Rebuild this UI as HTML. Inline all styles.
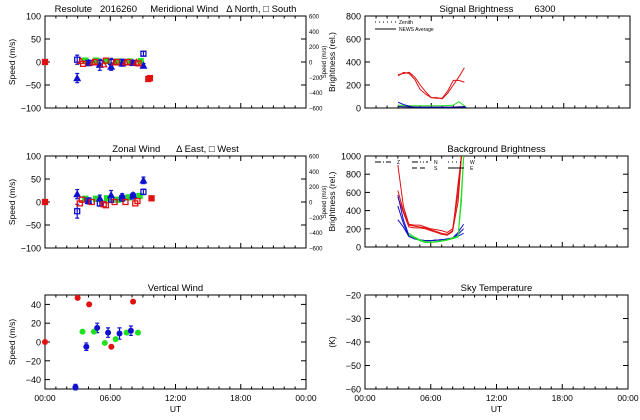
<!DOCTYPE html>
<html><head><meta charset="utf-8"><style>
html,body{margin:0;padding:0;background:#fff}
svg{display:block;font-family:"Liberation Sans",sans-serif}
svg text{white-space:pre}
</style></head><body>
<svg id="c" width="640" height="420" viewBox="0 0 640 420"></svg>
<script>
// ---- data ----
const merNorthH=[2.96,4.0,5.04,6.08,7.1,8.1,9.05];
const merNorthV=[-35,-2,-6,-10,-3,-2,-8];
const merNorthE=[10,6,12,8,6,5,5];
const merSouthH=[2.96,4.0,5.04,6.08,7.1,8.1,9.05];
const merSouthV=[5,-2,-2,0,0,-2,18];
const merSouthE=[10,5,6,8,6,4,5];
const merRedTriH=[3.3,4.4,5.4,6.4,7.4,8.4];
const merRedTriV=[2,-1,-5,-1,-1,-1];
const merRedSqH=[3.5,4.6,5.6,6.6,7.6,8.6];
const merRedSqV=[-4,0,3,0,0,-3];
const merRedDotH=[0,9.5,9.65];
const merRedDotV=[0,-37,-35];
const merGreenH=[3.7,4.7,5.7,6.7,7.8,8.8];
const merGreenV=[3,3,2,1,1,2];

const zonEastH=[2.96,4.0,5.04,6.08,7.1,8.1,9.05];
const zonEastV=[17,2,8,15,12,15,47];
const zonEastE=[10,6,7,10,6,5,7];
const zonWestH=[2.96,4.0,5.04,6.08,7.1,8.1,9.05];
const zonWestV=[-20,3,-3,5,8,12,22];
const zonWestE=[15,6,6,6,7,5,6];
const zonRedH=[3.2,3.4,4.3,5.4,5.6,6.4,7.4,8.3,8.5];
const zonRedV=[-3,5,0,-5,-7,0,0,-3,2];
const zonRedDotH=[0,9.8];
const zonRedDotV=[0,8];
const zonGreenH=[3.7,4.7,5.7,6.7,7.7,8.7];
const zonGreenV=[7,7,8,5,10,13];

const vertRedH=[0,3.0,4.06,6.1,8.1];
const vertRedV=[0,47,40,-5,43];
const vertBlueH=[2.8,3.8,4.8,5.8,6.85,7.9];
const vertBlueV=[-48,-5,15,10,9,12];
const vertBlueE=[3,4,5,5,6,5];
const vertGreenH=[3.45,4.5,5.5,6.5,7.5,8.55];
const vertGreenV=[11,11,-1,3,10,10];

const sigH=[3.0,3.5,4.0,4.5,5.0,5.5,6.0,6.5,7.0,7.5,8.0,8.5,9.0];
const sigRedA=[290,300,310,270,200,140,90,85,85,150,240,240,225];
const sigRedB=[280,310,300,250,160,120,90,90,80,130,200,270,350];
const sigGreenH=[3.0,4.0,5.0,6.0,7.0,8.0,8.5,9.0,9.2];
const sigGreen=[25,20,20,20,20,25,55,20,0];
const sigBlueH=[3.0,3.5,4.0,4.5,5.0,6.0,7.0,8.0,9.0,9.2];
const sigBlue=[50,30,15,5,5,5,5,5,10,0];
const sigBlue2H=[3.0,4.0,5.0,6.0,7.0,8.0,9.0,9.2];
const sigBlue2=[12,10,8,8,8,8,12,0];

const bgH=[3.0,3.5,4.0,4.5,5.0,5.5,6.0,6.5,7.0,7.5,8.0,8.5,8.8];
const bgRed1=[900,450,250,240,240,220,200,190,180,160,200,600,1000];
const bgRed2=[620,400,240,230,220,210,190,170,150,140,180,500,1000];
const bgRed3=[550,380,220,210,210,200,180,160,140,130,170,700,1000];
const bgBlueH=[3.0,3.5,4.0,4.5,5.0,5.5,6.0,6.5,7.0,7.5,8.0,8.5,9.0];
const bgBlue1=[570,300,130,100,80,70,70,75,80,90,100,160,250];
const bgBlue2=[450,260,120,90,75,70,70,75,80,85,95,140,200];
const bgBlue3=[300,220,115,90,75,70,70,75,80,85,95,120,150];
const bgGreenH=[4.0,4.5,5.0,5.5,6.0,6.5,7.0,7.5,8.0,8.5,8.8,9.0];
const bgGreen1=[150,110,80,60,55,60,70,80,100,120,500,1000];
const bgGreen2=[130,100,70,50,50,55,65,75,90,110,600,1000];

const xTickLabels=["00:00","06:00","12:00","18:00","00:00"];

// ---- helpers ----
const S=document.getElementById('c');
const NS='http://www.w3.org/2000/svg';
function el(tag,attrs,name,inter){
  const e=document.createElementNS(NS,tag);
  for(const k in attrs)e.setAttribute(k,attrs[k]);
  
  
  S.appendChild(e);return e;
}
function txt(x,y,s,size,anchor,name,rot){
  const a={x:x,y:y,'font-size':size,'text-anchor':anchor||'middle',fill:'#000'};
  if(rot)a.transform='rotate(-90 '+x+' '+y+')';
  const t=el('text',a,name);t.textContent=s;return t;
}
function panel(x0,x1,y0,y1,ymin,ymax,yticks,name,title,ylab,showX){
  const p={x:h=>x0+(x1-x0)*h/24,y:v=>y1-(y1-y0)*(v-ymin)/(ymax-ymin)};
  el('rect',{x:x0,y:y0,width:x1-x0,height:y1-y0,fill:'none',stroke:'#000','stroke-width':1},name+'-frame');
  for(let h=0;h<=24;h++){
    const L=h%6==0?5:2.5,X=p.x(h);
    el('line',{x1:X,x2:X,y1:y1,y2:y1-L,stroke:'#000'},name+'-xtick');
    el('line',{x1:X,x2:X,y1:y0,y2:y0+L,stroke:'#000'},name+'-xtick-top');
  }
  yticks.forEach(v=>{const Y=p.y(v);
    el('line',{x1:x0,x2:x0+5,y1:Y,y2:Y,stroke:'#000'},name+'-ytick');
    el('line',{x1:x1,x2:x1-5,y1:Y,y2:Y,stroke:'#000'},name+'-ytick-right');
    txt(x0-4,Y+3.5,String(v).replace('-','\u2212'),9,'end',name+'-ytick-label');});
  txt((x0+x1)/2,y0-4,title,9.5,'middle',name+'-title');
  txt(x0-30,(y0+y1)/2,ylab,8.5,'middle',name+'-y-axis-title',true);
  if(showX){
    xTickLabels.forEach((s,i)=>txt(p.x(i*6),y1+12,s,8.5,'middle',name+'-xtick-label'));
    txt((x0+x1)/2,y1+23,'UT',8.5,'middle',name+'-x-axis-title');
  }
  return p;
}
function rightAxis(p,x1,name){
  [600,400,200,0,-200,-400,-600].forEach(v=>{const Y=p.y(v/6);
    txt(x1+3,Y+2.5,String(v).replace('-','\u2212'),6,'start',name+'-right-tick-label');});
  txt(x1+20,p.y(0),'Speed (m/s)',6,'middle',name+'-right-axis-title',true);
}
function line(p,H,V,color,name,dash){
  el('polyline',{points:H.map((h,i)=>p.x(h)+','+p.y(V[i])).join(' '),fill:'none',stroke:color,'stroke-width':1,'stroke-dasharray':dash||'none'},name);
}
function errs(p,H,V,E,color,name){
  H.forEach((h,i)=>{const X=p.x(h),a=p.y(V[i]+E[i]),b=p.y(V[i]-E[i]);
    el('path',{d:'M'+X+' '+a+'V'+b+'M'+(X-2)+' '+a+'h4M'+(X-2)+' '+b+'h4',stroke:color,fill:'none','stroke-width':1.2},name);});
}
function marks(p,H,V,shape,color,fill,name){
  H.forEach((h,i)=>{const X=p.x(h),Y=p.y(V[i]);
    if(shape=='sq')el('rect',{x:X-2.5,y:Y-2.5,width:5,height:5,fill:fill?color:'none',stroke:color,'stroke-width':1.3},name);
    else if(shape=='tri')el('path',{d:'M'+X+' '+(Y-3)+'L'+(X+3)+' '+(Y+2.5)+'L'+(X-3)+' '+(Y+2.5)+'Z',fill:fill?color:'none',stroke:color,'stroke-width':1.2},name);
    else el('circle',{cx:X,cy:Y,r:3,fill:color},name);
  });
}
const B='#1010d0',R='#e01010',G='#20e020';

// ---- meridional ----
let p=panel(45,306,16,108,-100,100,[-100,-50,0,50,100],'meridional','Resolute   2016260     Meridional Wind   \u0394 North, \u25A1 South','Speed (m/s)',false);
rightAxis(p,306,'meridional');
errs(p,merNorthH,merNorthV,merNorthE,B,'merid-north-error');
errs(p,merSouthH,merSouthV,merSouthE,B,'merid-south-error');
marks(p,merGreenH,merGreenV,'sq',G,true,'merid-zenith-point');
marks(p,merNorthH,merNorthV,'tri',B,true,'merid-north-point');
marks(p,merSouthH,merSouthV,'sq',B,false,'merid-south-point');
marks(p,merRedTriH,merRedTriV,'tri',R,false,'merid-red-north-point');
marks(p,merRedSqH,merRedSqV,'sq',R,false,'merid-red-south-point');
marks(p,merRedDotH,merRedDotV,'sq',R,true,'merid-red-point');

// ---- zonal ----
p=panel(45,306,156,248,-100,100,[-100,-50,0,50,100],'zonal','Zonal Wind      \u0394 East, \u25A1 West','Speed (m/s)',false);
rightAxis(p,306,'zonal');
errs(p,zonEastH,zonEastV,zonEastE,B,'zonal-east-error');
errs(p,zonWestH,zonWestV,zonWestE,B,'zonal-west-error');
marks(p,zonGreenH,zonGreenV,'sq',G,true,'zonal-zenith-point');
marks(p,zonEastH,zonEastV,'tri',B,true,'zonal-east-point');
marks(p,zonWestH,zonWestV,'sq',B,false,'zonal-west-point');
marks(p,zonRedH,zonRedV,'sq',R,false,'zonal-red-point');
marks(p,zonRedDotH,zonRedDotV,'sq',R,true,'zonal-red-filled-point');

// ---- vertical ----
p=panel(45,306,295,389,-50,50,[-40,-20,0,20,40],'vertical','Vertical Wind','Speed (m/s)',true);
errs(p,vertBlueH,vertBlueV,vertBlueE,B,'vertical-blue-error');
marks(p,vertRedH,vertRedV,'dot',R,true,'vertical-red-point');
marks(p,vertGreenH,vertGreenV,'dot',G,true,'vertical-green-point');
marks(p,vertBlueH,vertBlueV,'dot',B,true,'vertical-blue-point');

// ---- signal brightness ----
p=panel(365,630,16,108,0,800,[0,200,400,600,800],'signal','Signal Brightness        6300','Brightness (rel.)',false);
line(p,sigH,sigRedA,R,'signal-red-line-a');
line(p,sigH,sigRedB,R,'signal-red-line-b');
line(p,sigGreenH,sigGreen,G,'signal-green-line');
line(p,sigBlueH,sigBlue,B,'signal-blue-line');
line(p,sigBlue2H,sigBlue2,'#000080','signal-blue-line-2');
el('line',{x1:375,x2:396,y1:22,y2:22,stroke:'#000','stroke-dasharray':'1 3'},'legend-zenith-line');
txt(399,24,'Zenith',5,'start','legend-zenith-label');
el('line',{x1:375,x2:396,y1:29,y2:29,stroke:'#000'},'legend-news-line');
txt(399,31,'NEWS Average',5,'start','legend-news-label');

// ---- background brightness ----
p=panel(365,628,156,247,0,1000,[0,200,400,600,800,1000],'background','Background Brightness','Brightness (rel.)',false);
line(p,bgH,bgRed1,R,'bg-red-line-1');
line(p,bgH,bgRed2,R,'bg-red-line-2');
line(p,bgH,bgRed3,R,'bg-red-line-3');
line(p,bgBlueH,bgBlue1,B,'bg-blue-line-1');
line(p,bgBlueH,bgBlue2,B,'bg-blue-line-2');
line(p,bgBlueH,bgBlue3,B,'bg-blue-line-3');
line(p,bgGreenH,bgGreen1,G,'bg-green-line-1');
line(p,bgGreenH,bgGreen2,G,'bg-green-line-2');
[['Z',375,162,'6 2 1 2'],['N',412,162,'6 2 1 2 1 2'],['S',412,168,'5 3'],['W',448,162,'1 3'],['E',448,168,'none']].forEach(a=>{
  el('line',{x1:a[1],x2:a[1]+16,y1:a[2],y2:a[2],stroke:'#000','stroke-dasharray':a[3]},'bg-legend-line');
  txt(a[1]+22,a[2]+2,a[0],5,'start','bg-legend-label');
});

// ---- sky temperature ----
p=panel(365,628,295,389,-60,-20,[-60,-50,-40,-30,-20],'sky','Sky Temperature','(K)',true);
</script>
</body></html>
